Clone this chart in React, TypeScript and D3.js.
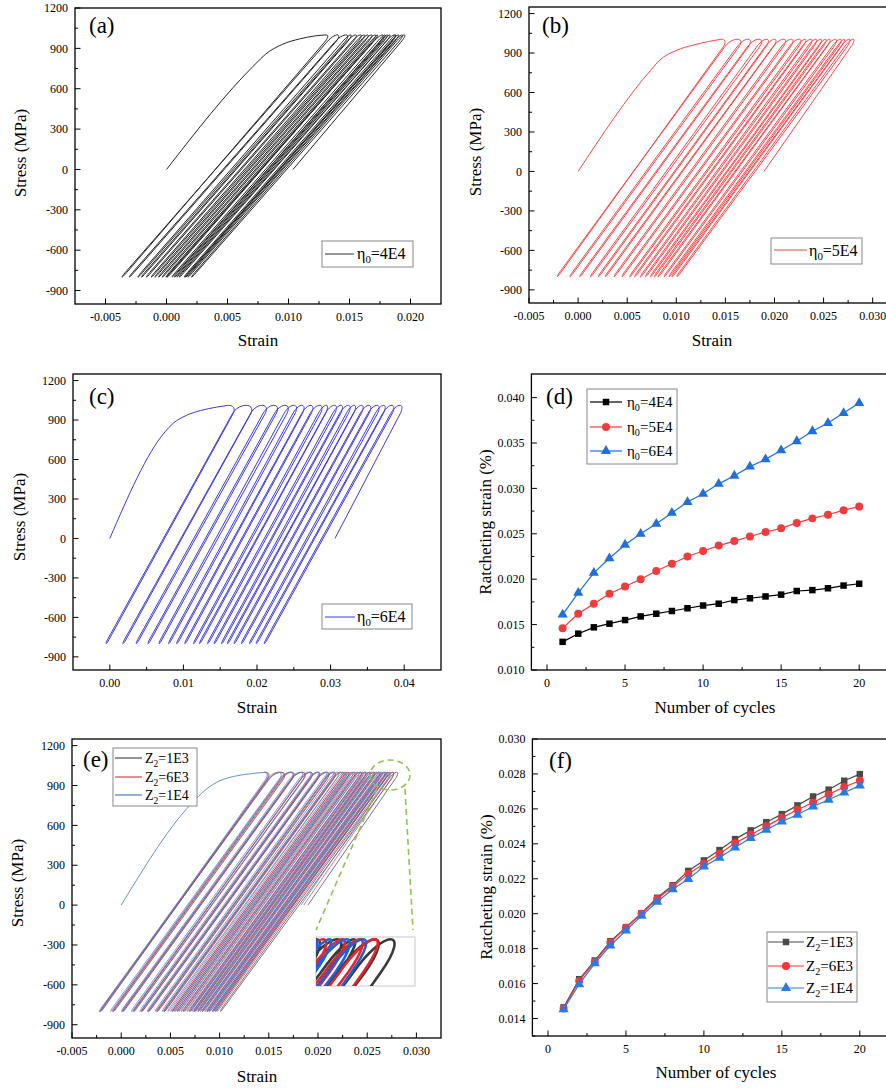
import React from "react";
import * as d3 from "d3";

const FONT = "'Liberation Serif', 'Times New Roman', Times, serif";
const E_MOD = 107000; // elastic modulus used to bend the branch ends (MPa)

type Pt = [number, number];

// ---------- cycle numbers ----------
const cycleNo = [1, 2, 3, 4, 5, 6, 7, 8, 9, 10, 11, 12, 13, 14, 15, 16, 17, 18, 19, 20];

// ---------- viscosity series (η0) : ratcheting strain at each peak ----------
const ratchet4E4 = [0.0131, 0.0140, 0.0147, 0.0151, 0.0155, 0.0159, 0.0162, 0.0165, 0.0168, 0.0171, 0.0173, 0.0177, 0.0179, 0.0181, 0.0183, 0.0187, 0.0188, 0.0190, 0.0193, 0.0195];
const ratchet5E4 = [0.0146, 0.0162, 0.0173, 0.0184, 0.0192, 0.0200, 0.0209, 0.0217, 0.0225, 0.0231, 0.0237, 0.0242, 0.0247, 0.0252, 0.0256, 0.0262, 0.0267, 0.0271, 0.0276, 0.0280];
const ratchet6E4 = [0.0161, 0.0185, 0.0207, 0.0223, 0.0238, 0.0250, 0.0261, 0.0273, 0.0285, 0.0294, 0.0305, 0.0314, 0.0324, 0.0332, 0.0342, 0.0352, 0.0363, 0.0372, 0.0383, 0.0394];

// strain at the compressive turning point after cycles 1..19
const valley4E4 = [-0.0037, -0.0031, -0.0024, -0.0021, -0.0017, -0.0013, -0.0010, -0.0007, -0.0004, -0.0001, 0.0000, 0.0004, 0.0006, 0.0008, 0.0010, 0.0014, 0.0015, 0.0017, 0.0020];
const valley5E4 = [-0.0022, -0.0009, 0.0001, 0.0012, 0.0020, 0.0027, 0.0036, 0.0044, 0.0052, 0.0057, 0.0063, 0.0068, 0.0073, 0.0077, 0.0081, 0.0087, 0.0092, 0.0095, 0.0100];
const valley6E4 = [-0.0006, 0.0017, 0.0035, 0.0051, 0.0066, 0.0079, 0.0090, 0.0101, 0.0113, 0.0121, 0.0132, 0.0141, 0.0151, 0.0159, 0.0168, 0.0178, 0.0189, 0.0198, 0.0209];

// first monotonic loading branch (strain, stress)
const initial4E4: Pt[] = [[0, 0], [0.0073, 785], [0.0081, 855], [0.0095, 930], [0.0109, 970], [0.0122, 993], [0.0131, 1000]];
const initial5E4: Pt[] = [[0, 0], [0.0074, 770], [0.0083, 845], [0.0100, 920], [0.0117, 960], [0.0133, 988], [0.0146, 1005]];
const initial6E4: Pt[] = [[0, 0], [0.0075, 810], [0.0086, 875], [0.0104, 935], [0.0123, 972], [0.0145, 998], [0.0161, 1012]];

// ---------- hardening series (Z2) ----------
const ratchetZ1E3 = [0.01464, 0.01625, 0.01732, 0.01842, 0.01923, 0.02003, 0.02091, 0.02163, 0.02245, 0.02305, 0.02364, 0.02427, 0.02477, 0.02524, 0.02570, 0.02620, 0.02671, 0.02710, 0.02761, 0.02799];
const ratchetZ6E3 = [0.01457, 0.01615, 0.01724, 0.01835, 0.01920, 0.02000, 0.02084, 0.02156, 0.02228, 0.02286, 0.02343, 0.02404, 0.02452, 0.02500, 0.02550, 0.02595, 0.02637, 0.02683, 0.02725, 0.02761];
const ratchetZ1E4 = [0.01453, 0.01596, 0.01716, 0.01818, 0.01904, 0.01988, 0.02068, 0.02140, 0.02198, 0.02270, 0.02320, 0.02379, 0.02433, 0.02480, 0.02528, 0.02566, 0.02614, 0.02652, 0.02694, 0.02733];

const valleyZ1E3 = [-0.00216, -0.00085, 0.00012, 0.00122, 0.00203, 0.00273, 0.00361, 0.00433, 0.00515, 0.00565, 0.00624, 0.00687, 0.00737, 0.00774, 0.00820, 0.00870, 0.00921, 0.00950, 0.01001];
const valleyZ6E3 = [-0.00223, -0.00095, 0.00004, 0.00115, 0.00200, 0.00270, 0.00354, 0.00426, 0.00498, 0.00546, 0.00603, 0.00664, 0.00712, 0.00750, 0.00800, 0.00845, 0.00887, 0.00923, 0.00965];
const valleyZ1E4 = [-0.00227, -0.00114, -0.00004, 0.00098, 0.00184, 0.00258, 0.00338, 0.00410, 0.00468, 0.00530, 0.00580, 0.00639, 0.00693, 0.00730, 0.00778, 0.00816, 0.00864, 0.00892, 0.00934];

const initialZ: Pt[] = [[0, 0], [0.0076, 800], [0.0087, 875], [0.0100, 935], [0.0114, 968], [0.0131, 988], [0.0146, 1000]];

// stress limits of the cycles (MPa)
const peakStressA = 1000;
const peakStressB = 1005;
const peakStressC = 1012;
const peakStressE = 1000;
const valleyStress = -800;

// ---------- ticks ----------
const stressTicks = [-900, -600, -300, 0, 300, 600, 900, 1200];
const stressMinor = [-750, -450, -150, 150, 450, 750, 1050];
const strainTicksA = [-0.005, 0, 0.005, 0.01, 0.015, 0.02];
const strainMinorA = [-0.0025, 0.0025, 0.0075, 0.0125, 0.0175];
const strainTicksB = [-0.005, 0, 0.005, 0.01, 0.015, 0.02, 0.025, 0.03];
const strainMinorB = [-0.0025, 0.0025, 0.0075, 0.0125, 0.0175, 0.0225, 0.0275];
const strainTicksC = [0, 0.01, 0.02, 0.03, 0.04];
const strainMinorC = [0.005, 0.015, 0.025, 0.035];
const cycleTicks = [0, 5, 10, 15, 20];
const cycleMinor = [2.5, 7.5, 12.5, 17.5];
const ratchetTicksD = [0.01, 0.015, 0.02, 0.025, 0.03, 0.035, 0.04];
const ratchetMinorD = [0.0125, 0.0175, 0.0225, 0.0275, 0.0325, 0.0375];
const ratchetTicksF = [0.014, 0.016, 0.018, 0.02, 0.022, 0.024, 0.026, 0.028, 0.03];
const ratchetMinorF = [0.013, 0.015, 0.017, 0.019, 0.021, 0.023, 0.025, 0.027, 0.029];

type Frame = { l: number; t: number; r: number; b: number };
type Scale = d3.ScaleLinear<number, number>;

interface LoopSpec {
  initial: Pt[];
  peaks: number[];
  valleys: number[];
  sMax: number;
  sMin: number;
  turnWidth: number; // width of the compressive hairpin turn (strain)
  capHeight: number; // stress span of the rounded tensile cap (MPa)
  turnHeight: number; // stress span of the rounded compressive turn (MPa)
}

// Narrow hairpin loops: straight branches between the peak and valley strains,
// a rounded cap at each peak and a tight turn at each valley; the last
// unloading stops at zero stress.
function loopPath(s: LoopSpec, sx: Scale, sy: Scale): string {
  const { peaks, valleys, sMax, sMin, turnWidth, capHeight, turnHeight } = s;
  const E = E_MOD;
  const n = peaks.length;
  const nv = valleys.length;
  const p = d3.path();
  const mv = (a: Pt) => p.moveTo(sx(a[0]), sy(a[1]));
  const ln = (a: Pt) => p.lineTo(sx(a[0]), sy(a[1]));
  const bz = (a: Pt, b: Pt, c: Pt) => p.bezierCurveTo(sx(a[0]), sy(a[1]), sx(b[0]), sy(b[1]), sx(c[0]), sy(c[1]));

  const capWidth = (i: number) => {
    const j = Math.min(Math.max(i, 1), nv - 1);
    return valleys[j] - valleys[j - 1] + turnWidth;
  };
  const cap = (i: number) => {
    const w = capWidth(i);
    const pk = peaks[i];
    const k = capHeight;
    const C: Pt = [pk - w / 2 - k / E, sMax - k];
    const T: Pt = [pk + w / 2 - k / E, sMax - k];
    const c1: Pt = [C[0] + (4 / 3) * (k / E), C[1] + (4 / 3) * k];
    const c2: Pt = [T[0] + (4 / 3) * (k / E), T[1] + (4 / 3) * k];
    return { C, c1, c2, T };
  };

  // right half of the first cap, continuing the monotonic branch
  const first = cap(0);
  const r1: Pt = [(first.c1[0] + 2 * first.c2[0] + first.T[0]) / 4, (first.c1[1] + 2 * first.c2[1] + first.T[1]) / 4];
  const r2: Pt = [(first.c2[0] + first.T[0]) / 2, (first.c2[1] + first.T[1]) / 2];
  mv([peaks[0], sMax]);
  bz(r1, r2, first.T);

  let T = first.T;
  for (let i = 0; i < n; i++) {
    if (i === n - 1) {
      ln([T[0] - T[1] / E, 0]);
      break;
    }
    const v = valleys[i];
    const kb = turnHeight;
    const Bd: Pt = [v + turnWidth + kb / E, sMin + kb];
    const Bu: Pt = [v + kb / E, sMin + kb];
    ln(Bd);
    bz([Bd[0] - (4 / 3) * (kb / E), Bd[1] - (4 / 3) * kb], [Bu[0] - (4 / 3) * (kb / E), Bu[1] - (4 / 3) * kb], Bu);
    const c = cap(i + 1);
    ln(c.C);
    bz(c.c1, c.c2, c.T);
    T = c.T;
  }
  return p.toString();
}

function initialPath(s: LoopSpec, sx: Scale, sy: Scale): string {
  return (
    d3
      .line<Pt>()
      .x((d) => sx(d[0]))
      .y((d) => sy(d[1]))
      .curve(d3.curveMonotoneX)(s.initial) || ""
  );
}

function Loops({ spec, sx, sy, color, width, opacity = 1, showInitial = true }: { spec: LoopSpec; sx: Scale; sy: Scale; color: string; width: number; opacity?: number; showInitial?: boolean }) {
  return (
    <g fill="none" stroke={color} strokeWidth={width} strokeLinejoin="round">
      {showInitial && <path d={initialPath(spec, sx, sy)} />}
      <path d={loopPath(spec, sx, sy)} strokeOpacity={opacity} />
    </g>
  );
}

function Axes({ f, sx, sy, xt, xm, yt, ym, fx, fy }: { f: Frame; sx: Scale; sy: Scale; xt: number[]; xm: number[]; yt: number[]; ym: number[]; fx: (v: number) => string; fy: (v: number) => string }) {
  return (
    <g fontFamily={FONT} fontSize={12} fill="#000">
      {xm.map((v) => (
        <line key={`xm${v}`} x1={sx(v)} x2={sx(v)} y1={f.b} y2={f.b - 3} stroke="#000" strokeWidth={1} />
      ))}
      {xt.map((v) => (
        <g key={`xt${v}`}>
          <line x1={sx(v)} x2={sx(v)} y1={f.b} y2={f.b - 5.5} stroke="#000" strokeWidth={1} />
          <text x={sx(v)} y={f.b + 17} textAnchor="middle">
            {fx(v)}
          </text>
        </g>
      ))}
      {ym.map((v) => (
        <line key={`ym${v}`} x1={f.l} x2={f.l + 3} y1={sy(v)} y2={sy(v)} stroke="#000" strokeWidth={1} />
      ))}
      {yt.map((v) => (
        <g key={`yt${v}`}>
          <line x1={f.l} x2={f.l + 5.5} y1={sy(v)} y2={sy(v)} stroke="#000" strokeWidth={1} />
          <text x={f.l - 7} y={sy(v)} dy="0.35em" textAnchor="end">
            {fy(v)}
          </text>
        </g>
      ))}
      <rect x={f.l} y={f.t} width={f.r - f.l} height={f.b - f.t} fill="none" stroke="#000" strokeWidth={1.3} />
    </g>
  );
}

function SubText({ x, y, base, sub, rest, size }: { x: number; y: number; base: string; sub: string; rest: string; size: number }) {
  return (
    <text x={x} y={y} fontSize={size} fontFamily={FONT} fill="#000">
      {base}
      <tspan dy={size * 0.28} fontSize={size * 0.68}>
        {sub}
      </tspan>
      <tspan dy={-size * 0.28}>{rest}</tspan>
    </text>
  );
}

function Titles({ cx, by, xTitle, yx, yy, yTitle }: { cx: number; by: number; xTitle: string; yx: number; yy: number; yTitle: string }) {
  return (
    <g fontFamily={FONT} fontSize={17} fill="#000">
      <text x={cx} y={by} textAnchor="middle">
        {xTitle}
      </text>
      <text transform={`translate(${yx},${yy}) rotate(-90)`} textAnchor="middle" dy="0.35em">
        {yTitle}
      </text>
    </g>
  );
}

function PanelLabel({ x, y, text }: { x: number; y: number; text: string }) {
  return (
    <text x={x} y={y} fontFamily={FONT} fontSize={23} fill="#000">
      {text}
    </text>
  );
}

function RatchetSeries({ data, sx, sy, color, marker, size }: { data: number[]; sx: Scale; sy: Scale; color: string; marker: d3.SymbolType; size: number }) {
  const line = d3
    .line<number>()
    .x((_, i) => sx(cycleNo[i]))
    .y((d) => sy(d));
  const sym = d3.symbol().type(marker).size(size)() || "";
  return (
    <g>
      <path d={line(data) || ""} fill="none" stroke={color} strokeWidth={1.2} />
      {data.map((d, i) => (
        <path key={i} d={sym} transform={`translate(${sx(cycleNo[i])},${sy(d)})`} fill={color} />
      ))}
    </g>
  );
}

function LegendMarkerRow({ x1, x2, y, color, marker, size }: { x1: number; x2: number; y: number; color: string; marker: d3.SymbolType; size: number }) {
  const sym = d3.symbol().type(marker).size(size)() || "";
  return (
    <g>
      <line x1={x1} x2={x2} y1={y} y2={y} stroke={color} strokeWidth={1.2} />
      <path d={sym} transform={`translate(${(x1 + x2) / 2},${y})`} fill={color} />
    </g>
  );
}

const fmt3 = (v: number) => v.toFixed(3);
const fmt2 = (v: number) => v.toFixed(2);
const fmtInt = (v: number) => String(v);

export default function App() {
  // ---------- (a) ----------
  const fA: Frame = { l: 75, t: 8, r: 441, b: 304 };
  const xA = d3.scaleLinear().domain([-0.0075, 0.0225]).range([fA.l, fA.r]);
  const yA = d3.scaleLinear().domain([-1000, 1200]).range([fA.b, fA.t]);
  const specA: LoopSpec = { initial: initial4E4, peaks: ratchet4E4, valleys: valley4E4, sMax: peakStressA, sMin: valleyStress, turnWidth: 0.00012, capHeight: 55, turnHeight: 35 };

  // ---------- (b) ----------
  const fB: Frame = { l: 529, t: 7, r: 892.3, b: 303 };
  const xB = d3.scaleLinear().domain([-0.005, 0.032]).range([fB.l, fB.r]);
  const yB = d3.scaleLinear().domain([-1000, 1250]).range([fB.b, fB.t]);
  const specB: LoopSpec = { initial: initial5E4, peaks: ratchet5E4, valleys: valley5E4, sMax: peakStressB, sMin: valleyStress, turnWidth: 0.00015, capHeight: 60, turnHeight: 35 };

  // ---------- (c) ----------
  const fC: Frame = { l: 73, t: 374, r: 441, b: 670 };
  const xC = d3.scaleLinear().domain([-0.005, 0.045]).range([fC.l, fC.r]);
  const yC = d3.scaleLinear().domain([-1000, 1250]).range([fC.b, fC.t]);
  const specC: LoopSpec = { initial: initial6E4, peaks: ratchet6E4, valleys: valley6E4, sMax: peakStressC, sMin: valleyStress, turnWidth: 0.0002, capHeight: 65, turnHeight: 35 };

  // ---------- (d) ----------
  const fD: Frame = { l: 531.4, t: 374, r: 890.4, b: 670 };
  const xD = d3.scaleLinear().domain([-1, 22]).range([fD.l, fD.r]);
  const yD = d3.scaleLinear().domain([0.01, 0.0426]).range([fD.b, fD.t]);

  // ---------- (e) ----------
  const fE: Frame = { l: 72, t: 739, r: 441, b: 1038 };
  const xE = d3.scaleLinear().domain([-0.005, 0.0325]).range([fE.l, fE.r]);
  const yE = d3.scaleLinear().domain([-1000, 1250]).range([fE.b, fE.t]);
  const zBase = { sMax: peakStressE, sMin: valleyStress, turnWidth: 0.00015, capHeight: 60, turnHeight: 35 };
  const specZ1E3: LoopSpec = { initial: initialZ, peaks: ratchetZ1E3, valleys: valleyZ1E3, ...zBase };
  const specZ6E3: LoopSpec = { initial: initialZ, peaks: ratchetZ6E3, valleys: valleyZ6E3, ...zBase };
  const specZ1E4: LoopSpec = { initial: initialZ, peaks: ratchetZ1E4, valleys: valleyZ1E4, ...zBase };

  // magnified view of the loop tips
  const fIn: Frame = { l: 316, t: 937, r: 415, b: 986 };
  const xIn = d3.scaleLinear().domain([0.0262, 0.02858]).range([fIn.l, fIn.r]);
  const yIn = d3.scaleLinear().domain([915, 1004]).range([fIn.b, fIn.t]);

  // ---------- (f) ----------
  const fF: Frame = { l: 532.4, t: 739, r: 891, b: 1036 };
  const xF = d3.scaleLinear().domain([-1, 22]).range([fF.l, fF.r]);
  const yF = d3.scaleLinear().domain([0.013, 0.03]).range([fF.b, fF.t]);

  const greenDash = "#8fc35a";

  return (
    <svg width={886} height={1088} style={{ position: "absolute", left: 0, top: 0, background: "#fff" }} fontFamily={FONT}>
      <rect x={0} y={0} width={886} height={1088} fill="#fff" />
      <defs>
        <clipPath id="clipA"><rect x={fA.l} y={fA.t} width={fA.r - fA.l} height={fA.b - fA.t} /></clipPath>
        <clipPath id="clipB"><rect x={fB.l} y={fB.t} width={fB.r - fB.l} height={fB.b - fB.t} /></clipPath>
        <clipPath id="clipC"><rect x={fC.l} y={fC.t} width={fC.r - fC.l} height={fC.b - fC.t} /></clipPath>
        <clipPath id="clipE"><rect x={fE.l} y={fE.t} width={fE.r - fE.l} height={fE.b - fE.t} /></clipPath>
        <clipPath id="clipIn"><rect x={fIn.l} y={fIn.t} width={fIn.r - fIn.l} height={fIn.b - fIn.t} /></clipPath>
      </defs>

      {/* (a) */}
      <g clipPath="url(#clipA)">
        <Loops spec={specA} sx={xA} sy={yA} color="#262626" width={1} />
      </g>
      <Axes f={fA} sx={xA} sy={yA} xt={strainTicksA} xm={strainMinorA} yt={stressTicks} ym={stressMinor} fx={fmt3} fy={fmtInt} />
      <PanelLabel x={89} y={33} text="(a)" />
      <rect x={322} y={241} width={91} height={26} fill="#fff" stroke="#888" strokeWidth={1} />
      <line x1={325} x2={354} y1={254} y2={254} stroke="#333" strokeWidth={1} />
      <SubText x={357} y={259} base="η" sub="0" rest="=4E4" size={16} />
      <Titles cx={258} by={346} xTitle="Strain" yx={20} yy={153} yTitle="Stress (MPa)" />

      {/* (b) */}
      <g clipPath="url(#clipB)">
        <Loops spec={specB} sx={xB} sy={yB} color="#ff3c3c" width={0.95} />
      </g>
      <Axes f={fB} sx={xB} sy={yB} xt={strainTicksB} xm={strainMinorB} yt={stressTicks} ym={stressMinor} fx={fmt3} fy={fmtInt} />
      <PanelLabel x={542} y={33} text="(b)" />
      <rect x={771} y={238} width={91} height={26} fill="#fff" stroke="#888" strokeWidth={1} />
      <line x1={774} x2={807} y1={250} y2={250} stroke="#ff3c3c" strokeWidth={1} />
      <SubText x={809} y={256} base="η" sub="0" rest="=5E4" size={16} />
      <Titles cx={712} by={346} xTitle="Strain" yx={475} yy={152} yTitle="Stress (MPa)" />

      {/* (c) */}
      <g clipPath="url(#clipC)">
        <Loops spec={specC} sx={xC} sy={yC} color="#3a3ae8" width={1} />
      </g>
      <Axes f={fC} sx={xC} sy={yC} xt={strainTicksC} xm={strainMinorC} yt={stressTicks} ym={stressMinor} fx={fmt2} fy={fmtInt} />
      <PanelLabel x={89} y={404} text="(c)" />
      <rect x={322} y={604} width={90} height={25} fill="#fff" stroke="#888" strokeWidth={1} />
      <line x1={325} x2={355} y1={617} y2={617} stroke="#3a3ae8" strokeWidth={1} />
      <SubText x={357} y={622} base="η" sub="0" rest="=6E4" size={16} />
      <Titles cx={257} by={713} xTitle="Strain" yx={19} yy={517} yTitle="Stress (MPa)" />

      {/* (d) */}
      <RatchetSeries data={ratchet4E4} sx={xD} sy={yD} color="#000" marker={d3.symbolSquare} size={42} />
      <RatchetSeries data={ratchet5E4} sx={xD} sy={yD} color="#f03c3c" marker={d3.symbolCircle} size={50} />
      <RatchetSeries data={ratchet6E4} sx={xD} sy={yD} color="#1f6fdc" marker={d3.symbolTriangle} size={45} />
      <Axes f={fD} sx={xD} sy={yD} xt={cycleTicks} xm={cycleMinor} yt={ratchetTicksD} ym={ratchetMinorD} fx={fmtInt} fy={fmt3} />
      <PanelLabel x={546} y={404} text="(d)" />
      <rect x={587} y={389} width={90} height={75} fill="#fff" stroke="#888" strokeWidth={1} />
      <LegendMarkerRow x1={590} x2={622} y={402} color="#000" marker={d3.symbolSquare} size={42} />
      <LegendMarkerRow x1={590} x2={622} y={427} color="#f03c3c" marker={d3.symbolCircle} size={50} />
      <LegendMarkerRow x1={590} x2={622} y={451} color="#1f6fdc" marker={d3.symbolTriangle} size={45} />
      <SubText x={627} y={407} base="η" sub="0" rest="=4E4" size={15} />
      <SubText x={627} y={432} base="η" sub="0" rest="=5E4" size={15} />
      <SubText x={627} y={456} base="η" sub="0" rest="=6E4" size={15} />
      <Titles cx={715} by={713} xTitle="Number of cycles" yx={485} yy={522} yTitle="Ratcheting strain (%)" />

      {/* (e) — the three series share the same first loading branch, drawn once in blue on top */}
      <g clipPath="url(#clipE)">
        <Loops spec={specZ1E3} sx={xE} sy={yE} color="#4a4a5e" width={0.85} opacity={0.9} showInitial={false} />
        <Loops spec={specZ6E3} sx={xE} sy={yE} color="#d8404c" width={0.85} opacity={0.85} showInitial={false} />
        <Loops spec={specZ1E4} sx={xE} sy={yE} color="#4c7ad2" width={0.85} opacity={0.85} />
      </g>
      <Axes f={fE} sx={xE} sy={yE} xt={strainTicksB} xm={strainMinorB} yt={stressTicks} ym={stressMinor} fx={fmt3} fy={fmtInt} />
      <PanelLabel x={83} y={767} text="(e)" />
      <rect x={113} y={748} width={84} height={58} fill="#fff" stroke="#888" strokeWidth={1} />
      <line x1={115} x2={142} y1={758} y2={758} stroke="#4a4a5e" strokeWidth={1.2} />
      <line x1={115} x2={142} y1={777} y2={777} stroke="#d8404c" strokeWidth={1.2} />
      <line x1={115} x2={142} y1={795} y2={795} stroke="#4c7ad2" strokeWidth={1.2} />
      <SubText x={145} y={763} base="Z" sub="2" rest="=1E3" size={14} />
      <SubText x={145} y={782} base="Z" sub="2" rest="=6E3" size={14} />
      <SubText x={145} y={800} base="Z" sub="2" rest="=1E4" size={14} />
      <Titles cx={257} by={1082} xTitle="Strain" yx={17} yy={883} yTitle="Stress (MPa)" />
      {/* zoom marker and magnified tips */}
      <ellipse cx={390} cy={775} rx={20} ry={15} fill="none" stroke={greenDash} strokeWidth={1.6} strokeDasharray="6 4" />
      <line x1={377} y1={789} x2={316} y2={930} stroke={greenDash} strokeWidth={1.6} strokeDasharray="6 4" />
      <line x1={405} y1={789} x2={413} y2={930} stroke={greenDash} strokeWidth={1.6} strokeDasharray="6 4" />
      <rect x={fIn.l} y={fIn.t} width={fIn.r - fIn.l} height={fIn.b - fIn.t} fill="#fff" stroke="#c8c8c8" strokeWidth={1} />
      <g clipPath="url(#clipIn)">
        <Loops spec={specZ1E3} sx={xIn} sy={yIn} color="#3a3a3a" width={2.6} />
        <Loops spec={specZ6E3} sx={xIn} sy={yIn} color="#e8232b" width={2.6} />
        <Loops spec={specZ1E4} sx={xIn} sy={yIn} color="#1b62d8" width={2.6} />
      </g>

      {/* (f) */}
      <RatchetSeries data={ratchetZ1E3} sx={xF} sy={yF} color="#4a4a4a" marker={d3.symbolSquare} size={42} />
      <RatchetSeries data={ratchetZ6E3} sx={xF} sy={yF} color="#ff3333" marker={d3.symbolCircle} size={50} />
      <RatchetSeries data={ratchetZ1E4} sx={xF} sy={yF} color="#2a7ae2" marker={d3.symbolTriangle} size={45} />
      <Axes f={fF} sx={xF} sy={yF} xt={cycleTicks} xm={cycleMinor} yt={ratchetTicksF} ym={ratchetMinorF} fx={fmtInt} fy={fmt3} />
      <PanelLabel x={549} y={768} text="(f)" />
      <rect x={767} y={932} width={90} height={70} fill="#fff" stroke="#888" strokeWidth={1} />
      <LegendMarkerRow x1={768} x2={804} y={942} color="#4a4a4a" marker={d3.symbolSquare} size={42} />
      <LegendMarkerRow x1={768} x2={804} y={966} color="#ff3333" marker={d3.symbolCircle} size={50} />
      <LegendMarkerRow x1={768} x2={804} y={988} color="#2a7ae2" marker={d3.symbolTriangle} size={45} />
      <SubText x={806} y={947} base="Z" sub="2" rest="=1E3" size={15} />
      <SubText x={806} y={971} base="Z" sub="2" rest="=6E3" size={15} />
      <SubText x={806} y={993} base="Z" sub="2" rest="=1E4" size={15} />
      <Titles cx={716} by={1078} xTitle="Number of cycles" yx={486} yy={887} yTitle="Ratcheting strain (%)" />
    </svg>
  );
}
